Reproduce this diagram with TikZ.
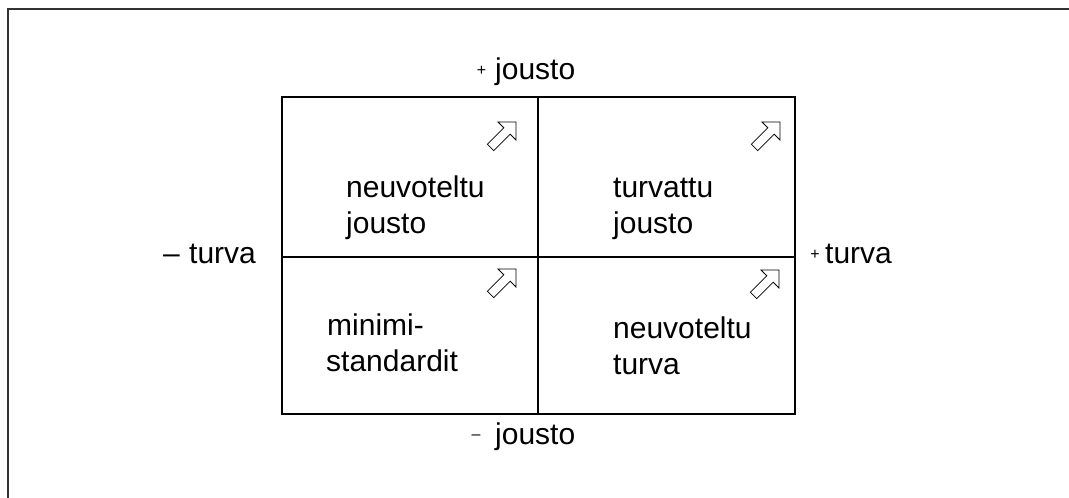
\documentclass[tikz,border=0pt]{standalone}
\usepackage{fontspec}
\setmainfont{Liberation Sans}
\begin{document}
\begin{tikzpicture}[x=1pt,y=1pt,
  lbl/.style={inner sep=0pt, anchor=base west, font=\fontsize{30}{36}\selectfont},
  sm/.style={inner sep=0pt, anchor=center, font=\fontsize{16}{18}\selectfont},
  gridline/.style={line width=1.3pt},
  framestyle/.style={line width=1.6pt, black!80},
  bigarrow/.pic={\draw[line width=0.8pt, line join=miter] (0,0) -- (-12.7,12.7) -- (-12.7,4.5) -- (-36,4.5) -- (-36,-4.5) -- (-12.7,-4.5) -- (-12.7,-12.7) -- cycle;}
]
\useasboundingbox (0,0) rectangle (1069,-498);
% outer frame (top and left edges)
\coordinate (fbl) at (8,-498);
\coordinate (ftl) at (8,-9);
\coordinate (ftr) at (1069,-9);
\draw[framestyle] (fbl) -- (ftl) -- (ftr);
% grid
\coordinate (tl) at (282,-97);
\coordinate (br) at (795,-414);
\coordinate (tm) at (538,-97);
\coordinate (bm) at (538,-414);
\coordinate (ml) at (282,-257);
\coordinate (mr) at (795,-257);
\draw[gridline] (tl) rectangle (br);
\draw[gridline] (tm) -- (bm);
\draw[gridline] (ml) -- (mr);
% arrows
\pic[rotate=45] at (516,-122) {bigarrow};
\pic[rotate=45] at (780,-122) {bigarrow};
\pic[rotate=45] at (516,-269) {bigarrow};
\pic[rotate=45] at (779,-270) {bigarrow};
% quadrant texts
\node[lbl] (q1a) at (346,-197) {neuvoteltu};
\node[lbl] (q1b) at (346,-233) {jousto};
\node[lbl] (q2a) at (613,-197) {turvattu};
\node[lbl] (q2b) at (613,-233) {jousto};
\node[lbl] (q3a) at (327,-335) {minimi-};
\node[lbl] (q3b) at (326,-371) {standardit};
\node[lbl] (q4a) at (613,-338) {neuvoteltu};
\node[lbl] (q4b) at (613,-374) {turva};
% axis labels
\node[sm] (pj) at (481.5,-71) {+};
\node[lbl] (tj) at (495,-79) {jousto};
\node[sm] (mj) at (476,-437) {\textendash};
\node[lbl] (bj) at (495,-444) {jousto};
\node[lbl] (mt) at (163,-263) {\textendash};
\node[lbl] (lt) at (189,-263) {turva};
\node[sm] (pt) at (815,-255) {+};
\node[lbl] (rt) at (825,-263) {turva};
\end{tikzpicture}
\end{document}
